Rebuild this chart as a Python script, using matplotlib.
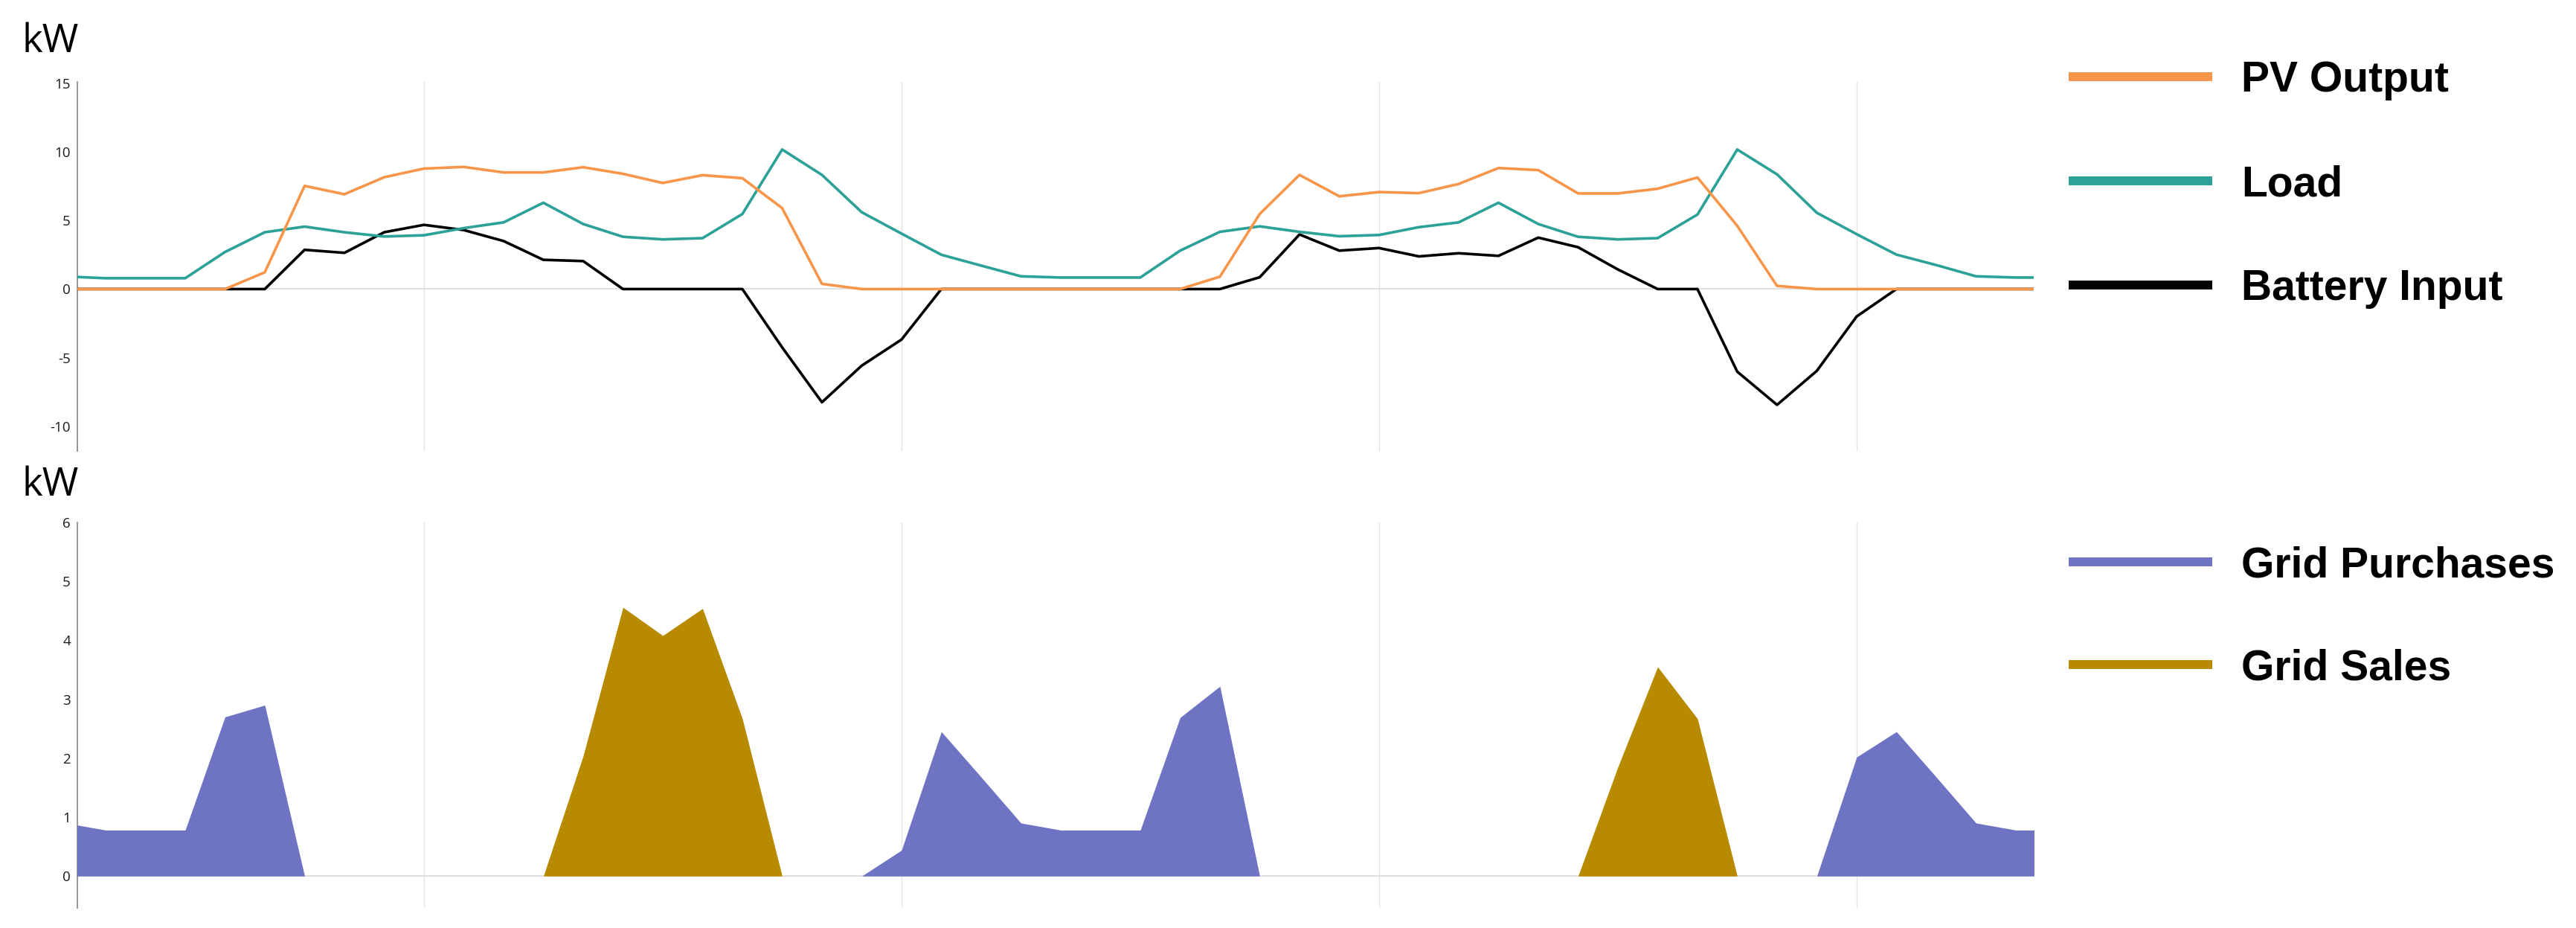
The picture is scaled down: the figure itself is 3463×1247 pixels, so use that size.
import matplotlib
matplotlib.use('Agg')
import matplotlib.pyplot as plt
from matplotlib.lines import Line2D

plt.rcParams['axes.unicode_minus'] = False

# hourly steps, two days (first and last point sit just outside the visible range)
hours = list(range(51))

pv_output = [0, 0, 0, 0, 0, 1.22, 7.52, 6.91, 8.15, 8.78, 8.90, 8.50, 8.50, 8.88, 8.40, 7.73, 8.30,
             8.08, 5.90, 0.38, 0, 0, 0, 0, 0, 0, 0, 0, 0, 0.90, 5.47, 8.32, 6.76, 7.07, 6.99, 7.66,
             8.82, 8.67, 6.97, 6.97, 7.31, 8.13, 4.61, 0.23, 0, 0, 0, 0, 0, 0, 0]
load = [0.92, 0.79, 0.79, 0.79, 2.70, 4.14, 4.55, 4.14, 3.83, 3.92, 4.44, 4.86, 6.29, 4.74, 3.81,
        3.62, 3.71, 5.47, 10.17, 8.32, 5.60, 4.04, 2.50, 1.71, 0.93, 0.84, 0.84, 0.84, 2.80, 4.17,
        4.57, 4.17, 3.85, 3.94, 4.51, 4.86, 6.29, 4.74, 3.81, 3.62, 3.71, 5.43, 10.17, 8.36, 5.56,
        4.00, 2.51, 1.75, 0.93, 0.84, 0.84]
battery_input = [0, 0, 0, 0, 0, 0, 2.86, 2.64, 4.14, 4.68, 4.30, 3.50, 2.13, 2.04, 0, 0, 0, 0,
                 -4.25, -8.25, -5.58, -3.68, 0, 0, 0, 0, 0, 0, 0, 0, 0.86, 3.98, 2.80, 2.99, 2.38,
                 2.61, 2.42, 3.75, 3.05, 1.43, 0, 0, -6.02, -8.44, -5.96, -2.00, 0, 0, 0, 0, 0]
grid_purchases = [0.90, 0.78, 0.78, 0.78, 2.70, 2.90, 0, 0, 0, 0, 0, 0, 0, 0, 0, 0, 0, 0, 0, 0, 0,
                  0.44, 2.45, 1.68, 0.90, 0.78, 0.78, 0.78, 2.69, 3.22, 0, 0, 0, 0, 0, 0, 0, 0, 0,
                  0, 0, 0, 0, 0, 0, 2.02, 2.45, 1.68, 0.90, 0.78, 0.78]
grid_sales = [0, 0, 0, 0, 0, 0, 0, 0, 0, 0, 0, 0, 0, 2.04, 4.56, 4.08, 4.54, 2.67, 0, 0, 0, 0, 0,
              0, 0, 0, 0, 0, 0, 0, 0, 0, 0, 0, 0, 0, 0, 0, 0, 1.85, 3.55, 2.67, 0, 0, 0, 0, 0, 0,
              0, 0, 0]

c_pv = '#F7964A'
c_load = '#2BA197'
c_batt = '#000000'
c_buy = '#6E74C3'
c_sell = '#B78A00'

W, H = 3463, 1247


def box(l, t, r, b):
    return [l / W, 1 - b / H, (r - l) / W, (b - t) / H]


fig = plt.figure(figsize=(W / 100, H / 100), dpi=100)
ax1 = fig.add_axes(box(104, 110, 2734, 606))
ax2 = fig.add_axes(box(104, 702, 2734, 1220))

for ax in (ax1, ax2):
    for s in ('top', 'right', 'bottom'):
        ax.spines[s].set_visible(False)
    ax.spines['left'].set_color('#8c8c8c')
    ax.spines['left'].set_linewidth(1.3)
    ax.set_xticks([9, 21, 33, 45])
    ax.set_xticklabels([])
    ax.tick_params(length=0, pad=6.5, labelsize=13.5, labelcolor='#1a1a1a')
    ax.grid(axis='x', color='#e4e4e4', linewidth=1)
    ax.set_axisbelow(True)
    ax.axhline(0, color='#e2dcdc', linewidth=1.3, zorder=1)
    ax.set_xlim(0.29, 49.45)

ax1.plot(hours, battery_input, color=c_batt, linewidth=2.6, zorder=3)
ax1.plot(hours, load, color=c_load, linewidth=2.6, zorder=4)
ax1.plot(hours, pv_output, color=c_pv, linewidth=2.6, zorder=5)
ax1.set_yticks([-10, -5, 0, 5, 10, 15])
ax1.set_ylim(-11.8, 15.1)

ax2.fill_between(hours, 0, grid_purchases, color=c_buy, linewidth=0, zorder=3)
ax2.fill_between(hours, 0, grid_sales, color=c_sell, linewidth=0, zorder=3)
ax2.set_yticks(range(7))
ax2.set_ylim(-0.54, 6.0)

for ax in (ax1, ax2):
    for lab in ax.get_yticklabels():
        lab.set_family('Open Sans')

fig.text(30 / W, 1 - 70 / H, 'kW', fontsize=38, family='Open Sans', va='baseline')
fig.text(30 / W, 1 - 666 / H, 'kW', fontsize=38, family='Open Sans', va='baseline')

legend_items = [('PV Output', c_pv, 103), ('Load', c_load, 243), ('Battery Input', c_batt, 383),
                ('Grid Purchases', c_buy, 755), ('Grid Sales', c_sell, 893)]
for label, color, y in legend_items:
    fig.add_artist(Line2D([2781 / W, 2974 / W], [1 - y / H, 1 - y / H], color=color,
                          linewidth=8.6, solid_capstyle='butt', transform=fig.transFigure))
    fig.text(3013 / W, 1 - (y + 20) / H, label, fontsize=41, fontweight='bold',
             family='Liberation Sans', va='baseline')

fig.savefig('out.png', dpi=100)
